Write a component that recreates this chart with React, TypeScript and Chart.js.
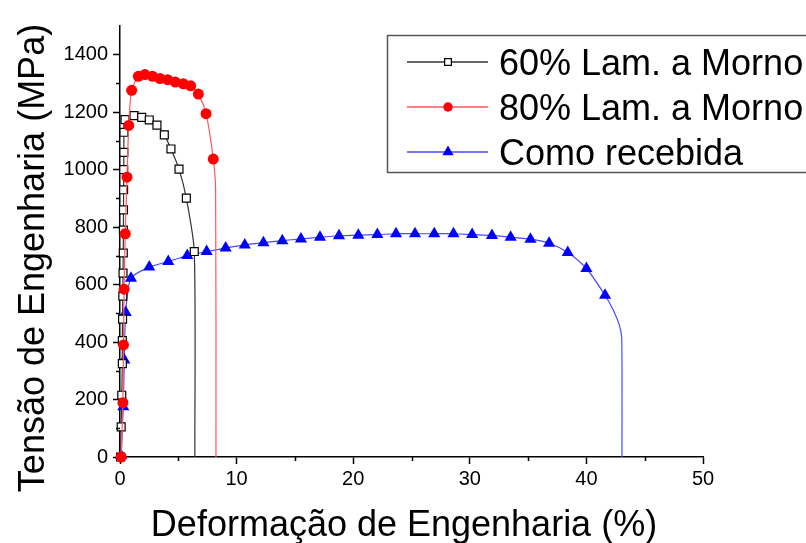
import React, { useEffect, useRef } from 'react';
import { Chart, registerables } from 'chart.js';

Chart.register(...registerables);

// ---- data (strain %, stress MPa) ----
const seriesNames = ['80% Lam. a Morno', '60% Lam. a Morno', 'Como recebida'];

const lam80Markers: [number, number][] = [
  [0.1, 0], [0.25, 189], [0.3, 390], [0.35, 584], [0.45, 777], [0.6, 974], [0.75, 1154],
  [1.0, 1276], [1.57, 1325], [2.14, 1331], [2.8, 1325], [3.43, 1317], [4.09, 1313],
  [4.74, 1305], [5.43, 1299], [6.06, 1292], [6.72, 1263], [7.38, 1195], [8.0, 1037],
];
const lam80Tail: [number, number][] = [[8.2, 930], [8.23, 0]];

const lam60Markers: [number, number][] = [
  [0.05, 0], [0.1, 105], [0.15, 215], [0.2, 325], [0.2, 405], [0.22, 480], [0.24, 560],
  [0.26, 640], [0.28, 710], [0.29, 790], [0.3, 860], [0.31, 930], [0.32, 1000],
  [0.33, 1060], [0.34, 1130], [0.43, 1174], [1.2, 1188], [1.86, 1182], [2.51, 1173],
  [3.17, 1155], [3.8, 1121], [4.37, 1072], [5.06, 1002], [5.69, 901], [6.37, 715],
];
const lam60Tail: [number, number][] = [[6.42, 0]];

const recebidaMarkers: [number, number][] = [
  [0.1, 5], [0.28, 175], [0.37, 338], [0.49, 503], [0.94, 622], [2.51, 661], [4.14, 680],
  [5.77, 701], [7.43, 715], [9.06, 727], [10.7, 738], [12.3, 746], [13.92, 753],
  [15.52, 759], [17.15, 765], [18.78, 770], [20.44, 772], [22.07, 774], [23.67, 777],
  [25.3, 777], [26.95, 777], [28.6, 777], [30.2, 774], [31.9, 771], [33.5, 765],
  [35.2, 758], [36.8, 744], [38.4, 712], [40.0, 656], [41.6, 563],
];
const recebidaTail: [number, number][] = [[42.3, 512], [42.82, 460], [43.03, 414], [43.05, 0]];

const xTicks = [0, 10, 20, 30, 40, 50];
const xMinorTicks = [5, 15, 25, 35, 45];
const yTicks = [0, 200, 400, 600, 800, 1000, 1200, 1400];
const yMinorTicks = [100, 300, 500, 700, 900, 1100, 1300];

const xTitle = 'Deformação de Engenharia (%)';
const yTitle = 'Tensão de Engenharia (MPa)';

const FONT = "'Liberation Sans', Arial, sans-serif";

const styles = [
  { line: '#ff5a5a', fill: '#ff0000', border: '#ff0000', shape: 'circle', r: 5.5, bw: 0 },
  { line: '#333333', fill: '#ffffff', border: '#000000', shape: 'rect', r: 5.6, bw: 1.2 },
  { line: '#4a4aff', fill: '#0000ff', border: '#0000ff', shape: 'triangle', r: 7, bw: 0 },
];

const seriesMarkers = [lam80Markers, lam60Markers, recebidaMarkers];
const seriesTails = [lam80Tail, lam60Tail, recebidaTail];

function drawMarker(ctx: CanvasRenderingContext2D, shape: string, x: number, y: number, r: number, fill: string, border: string, bw: number) {
  ctx.beginPath();
  if (shape === 'circle') {
    ctx.arc(x, y, r, 0, Math.PI * 2);
  } else if (shape === 'rect') {
    const s = Math.SQRT1_2 * r;
    ctx.rect(x - s, y - s, 2 * s, 2 * s);
  } else {
    let a = 0;
    ctx.moveTo(x + Math.sin(a) * r, y - Math.cos(a) * r);
    a += (2 * Math.PI) / 3;
    ctx.lineTo(x + Math.sin(a) * r, y - Math.cos(a) * r);
    a += (2 * Math.PI) / 3;
    ctx.lineTo(x + Math.sin(a) * r, y - Math.cos(a) * r);
    ctx.closePath();
  }
  ctx.fillStyle = fill;
  ctx.fill();
  if (bw > 0) {
    ctx.lineWidth = bw;
    ctx.strokeStyle = border;
    ctx.stroke();
  }
}

const decorPlugin = {
  id: 'decor',
  afterDraw(chart: any) {
    const ctx: CanvasRenderingContext2D = chart.ctx;
    const xs = chart.scales.x;
    const ys = chart.scales.y;
    const area = chart.chartArea;
    ctx.save();
    // minor ticks
    ctx.strokeStyle = '#000';
    ctx.lineWidth = 1.5;
    ctx.beginPath();
    yMinorTicks.forEach((v) => {
      const py = Math.round(ys.getPixelForValue(v)) + 0.5;
      ctx.moveTo(area.left - 4, py);
      ctx.lineTo(area.left, py);
    });
    xMinorTicks.forEach((v) => {
      const px = Math.round(xs.getPixelForValue(v)) + 0.5;
      ctx.moveTo(px, area.bottom);
      ctx.lineTo(px, area.bottom + 4);
    });
    ctx.stroke();

    // axis titles
    ctx.fillStyle = '#000';
    ctx.font = `36px ${FONT}`;
    ctx.textAlign = 'center';
    ctx.textBaseline = 'alphabetic';
    ctx.fillText(xTitle, 404, 536);
    ctx.save();
    ctx.translate(44, 258);
    ctx.rotate(-Math.PI / 2);
    ctx.fillText(yTitle, 0, 0);
    ctx.restore();

    // legend
    const order = [1, 0, 2];
    ctx.fillStyle = '#fff';
    ctx.fillRect(387.5, 35.5, 440, 137);
    ctx.strokeStyle = '#555';
    ctx.lineWidth = 1.5;
    ctx.strokeRect(387.5, 35.5, 440, 137);
    order.forEach((si, i) => {
      const y = 62 + i * 45;
      const st = styles[si];
      ctx.strokeStyle = st.line;
      ctx.lineWidth = 1.3;
      ctx.beginPath();
      ctx.moveTo(407, y);
      ctx.lineTo(488, y);
      ctx.stroke();
      drawMarker(ctx, st.shape, 448, y, st.shape === 'triangle' ? 6.5 : st.r * 0.85, st.fill, st.border, st.bw);
      ctx.fillStyle = '#000';
      ctx.font = `36px ${FONT}`;
      ctx.textAlign = 'left';
      ctx.textBaseline = 'alphabetic';
      ctx.fillText(seriesNames[si], 499, y + 13);
    });
    ctx.restore();
  },
};

export default function App() {
  const ref = useRef<HTMLCanvasElement | null>(null);
  useEffect(() => {
    document.body.style.margin = '0';
    const canvas = ref.current!;
    const datasets = seriesNames.map((name, si) => {
      const st = styles[si];
      const markers = seriesMarkers[si];
      const data = [...markers, ...seriesTails[si]].map(([x, y]) => ({ x, y }));
      return {
        label: name,
        data,
        borderColor: st.line,
        borderWidth: 1.2,
        backgroundColor: st.fill,
        pointBackgroundColor: st.fill,
        pointBorderColor: st.border,
        pointBorderWidth: st.bw,
        pointStyle: st.shape,
        pointRadius: (c: any) => (c.dataIndex < markers.length ? st.r : 0),
        pointHoverRadius: (c: any) => (c.dataIndex < markers.length ? st.r : 0),
        tension: 0.25,
        fill: false,
        showLine: true,
        clip: false,
      };
    });
    const chart = new Chart(canvas, {
      type: 'scatter',
      data: { datasets } as any,
      options: {
        animation: false,
        responsive: false,
        devicePixelRatio: 1,
        layout: { padding: { left: 0, top: 26, right: 103, bottom: 0 } },
        plugins: { legend: { display: false }, tooltip: { enabled: false } },
        scales: {
          x: {
            type: 'linear',
            min: 0,
            max: 50,
            afterFit: (s: any) => { s.height = 86; },
            afterBuildTicks: (s: any) => { s.ticks = xTicks.map((v) => ({ value: v })); },
            grid: { display: true, drawOnChartArea: false, drawTicks: true, tickLength: 7, tickWidth: 1.5, tickColor: '#000' },
            border: { display: true, color: '#000', width: 1.5 },
            ticks: { color: '#000', font: { family: FONT, size: 20 }, padding: 3, maxRotation: 0, callback: (v: any) => String(v) },
          },
          y: {
            type: 'linear',
            min: 0,
            max: 1500,
            afterFit: (s: any) => { s.width = 120; },
            afterBuildTicks: (s: any) => { s.ticks = yTicks.map((v) => ({ value: v })); },
            grid: { display: true, drawOnChartArea: false, drawTicks: true, tickLength: 7, tickWidth: 1.5, tickColor: '#000' },
            border: { display: true, color: '#000', width: 1.5 },
            ticks: { color: '#000', font: { family: FONT, size: 20 }, padding: 5, callback: (v: any) => String(v) },
          },
        },
      },
      plugins: [decorPlugin],
    } as any);
    return () => chart.destroy();
  }, []);
  return (
    <div style={{ position: 'fixed', left: 0, top: 0, width: 806, height: 543 }}>
      <canvas ref={ref} width={806} height={543} style={{ width: 806, height: 543, display: 'block' }} />
    </div>
  );
}
